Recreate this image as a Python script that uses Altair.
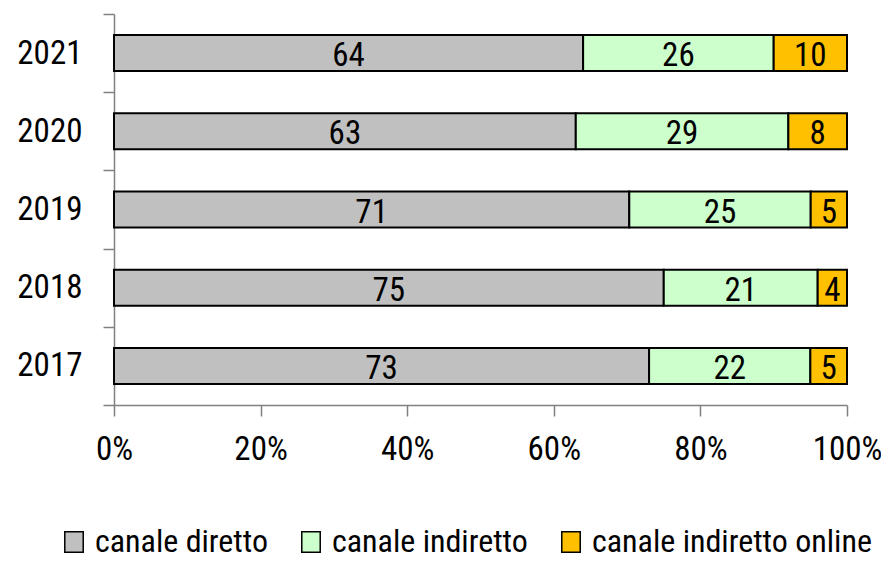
import altair as alt
import pandas as pd

years = ["2021", "2020", "2019", "2018", "2017"]
channels = ["canale diretto", "canale indiretto", "canale indiretto online"]
diretto = [64, 63, 71, 75, 73]
indiretto = [26, 29, 25, 21, 22]
online = [10, 8, 5, 4, 5]
colors = ["#C0C0C0", "#CCFFCC", "#FFC000"]

rows = []
for i, y in enumerate(years):
    for j, (c, vals) in enumerate(zip(channels, [diretto, indiretto, online])):
        rows.append({"anno": y, "canale": c, "ordine": j, "valore": vals[i]})
df = pd.DataFrame(rows)

FONT = "Liberation Sans Narrow, Arial Narrow, Roboto Condensed, DejaVu Sans Condensed, sans-serif"

base = alt.Chart(df).transform_stack(
    stack="valore", groupby=["anno"], as_=["v0", "v1"],
    sort=[alt.SortField("ordine", order="ascending")], offset="normalize"
).transform_calculate(mid="(datum.v0 + datum.v1) / 2")

yenc = alt.Y("anno:N", sort=years, title=None,
             scale=alt.Scale(paddingInner=0, paddingOuter=0),
             axis=alt.Axis(tickBand="extent", tickSize=11, labelPadding=21,
                           labelFontSize=33, labelFont=FONT, labelColor="black",
                           domainColor="#808080", tickColor="#808080",
                           domainWidth=1.5, tickWidth=1.5))

bars = base.mark_bar(stroke="black", strokeWidth=2,
                     height=alt.RelativeBandSize(0.46)).encode(
    x=alt.X("v0:Q", title=None,
            scale=alt.Scale(domain=[0, 1], nice=False),
            axis=alt.Axis(format=".0%", values=[0, 0.2, 0.4, 0.6, 0.8, 1.0],
                          tickSize=11, labelPadding=17, labelFontSize=33,
                          labelFont=FONT, labelColor="black", grid=False,
                          domainColor="#808080", tickColor="#808080",
                          domainWidth=1.5, tickWidth=1.5, labelFlush=False)),
    x2="v1:Q",
    y=yenc,
    color=alt.Color("canale:N", sort=channels,
                    scale=alt.Scale(domain=channels, range=colors),
                    legend=alt.Legend(title=None, orient="none", direction="horizontal",
                                      legendX=-56, legendY=512,
                                      symbolType="M-0.9,-1L0.9,-1L0.9,1L-0.9,1Z",
                                      symbolSize=420, symbolStrokeColor="black",
                                      symbolStrokeWidth=1.5, symbolOpacity=1,
                                      labelFont=FONT, labelFontSize=32,
                                      labelColor="black", labelOffset=5,
                                      columnPadding=27, labelLimit=400)),
)

labels = base.mark_text(fontSize=33, font=FONT, color="black", dy=3).encode(
    x=alt.X("mid:Q"),
    y=alt.Y("anno:N", sort=years),
    text=alt.Text("valore:Q"),
)

chart = alt.layer(bars, labels).properties(
    width=733, height=391,
    autosize=alt.AutoSizeParams(type="none"),
    padding={"left": 106, "top": 6, "right": 34, "bottom": 156},
).configure_view(stroke=None)

chart.save("out.html", embed_options={"renderer": "svg", "actions": False})
